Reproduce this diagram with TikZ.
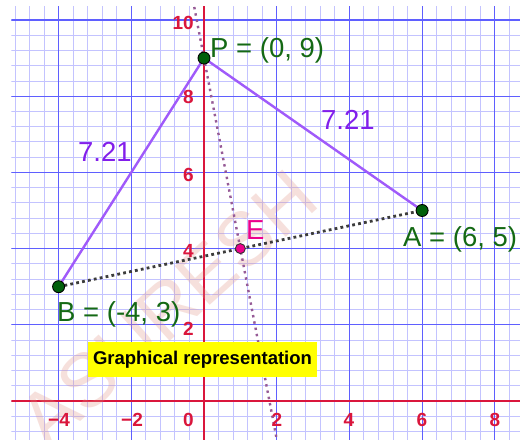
\documentclass[tikz,border=0pt]{standalone}
\usepackage{fontspec}
\setmainfont{Liberation Sans}
\definecolor{minorgrid}{RGB}{195,195,255}
\definecolor{majorgrid}{RGB}{95,95,255}
\definecolor{axisred}{RGB}{218,22,60}
\definecolor{violetline}{RGB}{160,90,250}
\definecolor{violettext}{RGB}{130,30,235}
\definecolor{ptgreen}{RGB}{20,105,20}
\definecolor{ptfill}{RGB}{0,95,10}
\definecolor{dotgray}{RGB}{60,60,60}
\definecolor{bisect}{RGB}{150,90,150}
\definecolor{wmark}{RGB}{225,145,130}
\definecolor{hlyellow}{RGB}{255,255,0}
\begin{document}
\begin{tikzpicture}[x=36.35pt,y=38.1pt,
  ptdot/.style={circle,draw=black,line width=0.9pt,fill=ptfill,minimum size=12pt,inner sep=0pt},
  edot/.style={circle,draw=black!80,line width=0.9pt,fill=magenta,minimum size=10pt,inner sep=0pt},
  ptlabel/.style={inner sep=0pt,anchor=base west,text=ptgreen,font=\fontsize{27.5}{30}\selectfont},
  lenlabel/.style={inner sep=0pt,anchor=base west,text=violettext,font=\fontsize{27.5}{30}\selectfont},
  ticklabel/.style={inner sep=0pt,text=axisred,font=\fontsize{19}{21}\selectfont\bfseries},
  minorline/.style={draw=minorgrid,line width=0.9pt},
  majorline/.style={draw=majorgrid,line width=1.2pt},
  axisline/.style={draw=axisred,line width=1.8pt},
  sideline/.style={draw=violetline,line width=2.4pt},
  midline/.style={draw=dotgray,line width=2.8pt,dash pattern=on 2.8pt off 3.2pt},
  bisline/.style={draw=bisect,line width=2.4pt,dash pattern=on 2.4pt off 4pt},
  wmtext/.style={inner sep=0pt,text=wmark,text opacity=0.28,rotate=42,font=\fontsize{76}{76}\selectfont},
  banner/.style={fill=hlyellow,inner sep=0pt,minimum width=229pt,minimum height=35pt,font=\fontsize{18.5}{20}\selectfont\bfseries}
]
\useasboundingbox (-5.6121,-1.0236) rectangle (8.6933,10.5249);
\fill[white] (-5.6121,-1.0236) rectangle (8.6933,10.5249);
% grid
\begin{scope}
\clip (-5.296,-1.0236) rectangle (8.6933,10.341);
\foreach \i in {-14,...,22} \draw[minorline] ({0.4*\i},-1.2) -- ({0.4*\i},10.6);
\foreach \j in {-3,...,26} \draw[minorline] (-5.7,{0.4*\j}) -- (8.8,{0.4*\j});
\foreach \i in {-4,-2,2,4,6,8} \draw[majorline] (\i,-1.2) -- (\i,10.6);
\foreach \j in {2,4,6,8,10} \draw[majorline] (-5.7,\j) -- (8.8,\j);
\draw[axisline] (0,-1.2) -- (0,10.6);
\draw[axisline] (-5.7,0) -- (8.8,0);
\end{scope}
% watermark
\node[wmtext] (wm) at (-0.99,2.44) {ASURESH};
% geometry
\coordinate (P) at (0,9);
\coordinate (A) at (6,5);
\coordinate (B) at (-4,3);
\coordinate (E) at (1,4);
\coordinate (bisTop) at (-0.2682,10.341);
\coordinate (bisBot) at (2.0047,-1.0236);
\draw[midline] (B) -- (A);
\draw[bisline] (bisTop) -- (bisBot);
\draw[sideline] (P) -- (B);
\draw[sideline] (P) -- (A);
\node[ptdot] (Pd) at (P) {};
\node[ptdot] (Ad) at (A) {};
\node[ptdot] (Bd) at (B) {};
\node[edot] (Ed) at (E) {};
% labels in pixel coordinates
\begin{scope}[x=1pt,y=-1pt,shift={(-204pt,401pt)}]
\node[ptlabel] (Pl) at (210,58) {P = (0, 9)};
\node[ptlabel] (Al) at (403,247) {A = (6, 5)};
\node[ptlabel] (Bl) at (57,322) {B = (-4, 3)};
\node[inner sep=0pt,anchor=base west,text=magenta,font=\fontsize{27.5}{30}\selectfont] (El) at (246,240) {E};
\node[lenlabel] (L1) at (78,162) {7.21};
\node[lenlabel] (L2) at (321,130) {7.21};
\node[ticklabel,anchor=east] (y10) at (194,22.5) {10};
\node[ticklabel,anchor=east] (y8) at (194,96.5) {8};
\node[ticklabel,anchor=east] (y6) at (194,175) {6};
\node[ticklabel,anchor=east] (y4) at (194,250.5) {4};
\node[ticklabel,anchor=east] (y2) at (194,328.5) {2};
\node[ticklabel] (xm4) at (59,420) {−4};
\node[ticklabel] (xm2) at (132,420) {−2};
\node[ticklabel,anchor=east] (x0) at (194,420) {0};
\node[ticklabel] (x2) at (277,420) {2};
\node[ticklabel] (x4) at (349,420) {4};
\node[ticklabel] (x6) at (422,420) {6};
\node[ticklabel] (x8) at (495,420) {8};
\node[banner] (title) at (202.5,359.5) {Graphical representation};
\end{scope}
\end{tikzpicture}
\end{document}
